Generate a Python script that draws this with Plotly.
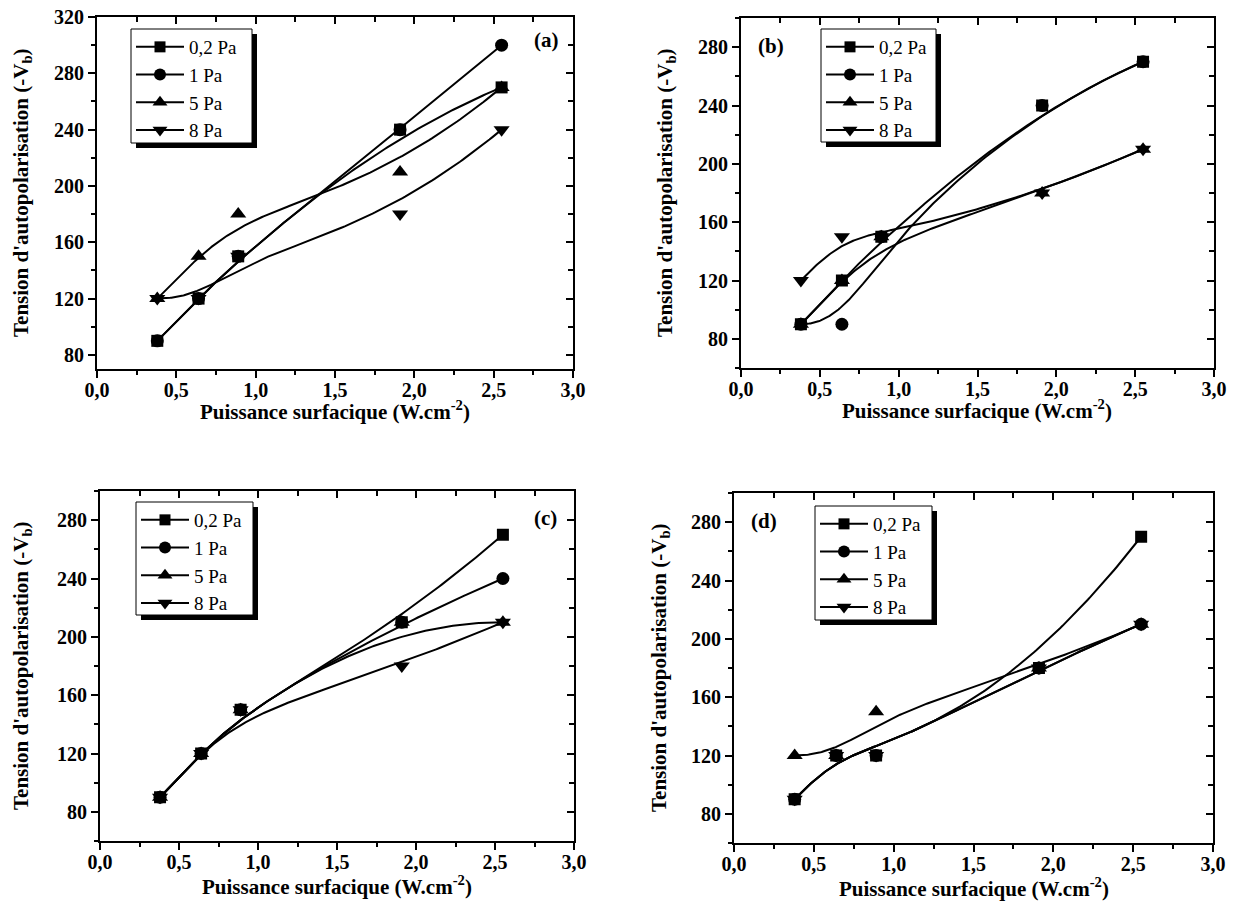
import numpy as np
import plotly.graph_objects as go

# ---------------- data ----------------
power = [0.38, 0.64, 0.89, 1.91, 2.55]          # W.cm-2
pressures = ["0,2 Pa", "1 Pa", "5 Pa", "8 Pa"]

a_02 = [90, 120, 150, 240, 270]
a_1 = [90, 120, 150, 240, 300]
a_5 = [120, 150, 180, 210, 270]
a_8 = [120, 120, 150, 180, 240]

b_02 = [90, 120, 150, 240, 270]
b_1 = [90, 90, 150, 240, 270]
b_5 = [90, 120, 150, 180, 210]
b_8 = [120, 150, 150, 180, 210]

c_02 = [90, 120, 150, 210, 270]
c_1 = [90, 120, 150, 210, 240]
c_5 = [90, 120, 150, 210, 210]
c_8 = [90, 120, 150, 180, 210]

d_02 = [90, 120, 120, 180, 270]
d_1 = [90, 120, 120, 180, 210]
d_5 = [120, 120, 150, 180, 210]
d_8 = [90, 120, 120, 180, 210]

panel_labels = ["(a)", "(b)", "(c)", "(d)"]
x_title = "Puissance surfacique (W.cm<sup>-2</sup>)"
y_title = "Tension d'autopolarisation (-V<sub>b</sub>)"

# ---------------- style ----------------
VW, VH = 1247, 907          # browser window
OFF = 8                     # default page body margin
W, H = VW - OFF, VH - OFF   # figure size so it fits the window exactly
FONT = "Liberation Serif, Times New Roman, serif"
symbols = ["square", "circle", "triangle-up", "triangle-down"]
msizes = [12, 13, 14, 14]


def px(x):
    return (x - OFF) / W


def py(y):
    return 1 - (y - OFF) / H


# panel boxes in window pixels (left, right, top, bottom)
boxes = [(97, 573, 17, 369), (741, 1214, 18, 368),
         (100, 574, 491, 841), (734, 1213, 493, 843)]
yranges = [(70, 320), (60, 300), (60, 300), (60, 300)]
xtitle_gap = [41, 41, 44, 44]
# legend boxes (left, top, width, height)
legend_box = [(131, 29, 121, 114), (821, 29, 115, 113),
              (136, 502, 117, 113), (815, 506, 117, 114)]
label_px = [(532, 40), (756, 46), (532, 518), (749, 521)]
ytitle_px = [22, 666, 22, 660]


def bspline(xs, ys, n=200, k=3):
    """Clamped B-spline using the data points as control points (Origin 'B-Spline')."""
    xs = np.asarray(xs, float)
    ys = np.asarray(ys, float)
    m = len(xs)
    inner = np.linspace(0, 1, m - k + 1)[1:-1]
    t = np.concatenate([np.zeros(k + 1), inner, np.ones(k + 1)])
    u = np.linspace(0, 1, n)
    u[-1] = 1 - 1e-12

    def basis(i, p, uu):
        if p == 0:
            return np.where((t[i] <= uu) & (uu < t[i + 1]), 1.0, 0.0)
        out = np.zeros_like(uu)
        d1 = t[i + p] - t[i]
        d2 = t[i + p + 1] - t[i + 1]
        if d1 > 0:
            out += (uu - t[i]) / d1 * basis(i, p - 1, uu)
        if d2 > 0:
            out += (t[i + p + 1] - uu) / d2 * basis(i + 1, p - 1, uu)
        return out

    Bm = np.array([basis(i, k, u) for i in range(m)])
    return Bm.T @ xs, Bm.T @ ys


panels = [[a_02, a_1, a_5, a_8], [b_02, b_1, b_5, b_8],
          [c_02, c_1, c_5, c_8], [d_02, d_1, d_5, d_8]]

fig = go.Figure()
layout = dict(width=W, height=H, margin=dict(l=0, r=0, t=0, b=0, autoexpand=False),
              paper_bgcolor="white", plot_bgcolor="white",
              separators=", ", showlegend=True,
              font=dict(family=FONT, color="black"))
shapes, annotations = [], []

for p, series in enumerate(panels):
    i = p + 1
    xa = "x" if i == 1 else f"x{i}"
    ya = "y" if i == 1 else f"y{i}"
    leg = "legend" if i == 1 else f"legend{i}"
    L, R, T, B = boxes[p]
    xdom = [px(L), px(R)]
    ydom = [py(B), py(T)]

    for s, vals in enumerate(series):
        sx, sy = bspline(power, vals)
        fig.add_trace(go.Scatter(x=sx, y=sy, mode="lines", xaxis=xa, yaxis=ya,
                                 line=dict(color="black", width=2),
                                 showlegend=False, hoverinfo="skip"))
        fig.add_trace(go.Scatter(x=power, y=vals, mode="markers", xaxis=xa, yaxis=ya,
                                 marker=dict(symbol=symbols[s], size=msizes[s], color="black"),
                                 showlegend=False))
        fig.add_trace(go.Scatter(x=[None], y=[None], mode="lines+markers", xaxis=xa, yaxis=ya,
                                 name=pressures[s], legend=leg,
                                 line=dict(color="black", width=2),
                                 marker=dict(symbol=symbols[s], size=msizes[s] - 1, color="black")))

    # invisible helper trace for top / right mirror axes
    xa2, ya2 = f"x{i+4}", f"y{i+4}"
    fig.add_trace(go.Scatter(x=[None], y=[None], xaxis=xa2, yaxis=ya2,
                             showlegend=False, hoverinfo="skip"))

    tickfont = dict(family=FONT, size=20, color="black", weight="bold")
    common = dict(showgrid=False, zeroline=False, linecolor="black", linewidth=2,
                  tickcolor="black", tickwidth=2, ticklen=7, automargin=False,
                  ticklabeloverflow="allow")
    layout["xaxis" if i == 1 else f"xaxis{i}"] = dict(
        domain=xdom, anchor=ya, range=[0, 3], dtick=0.5, tick0=0, tickformat=".1f",
        ticks="outside", tickfont=tickfont, ticklabelstandoff=-5,
        minor=dict(dtick=0.25, ticks="outside", ticklen=4, tickwidth=2, tickcolor="black"),
        **common)
    layout["yaxis" if i == 1 else f"yaxis{i}"] = dict(
        domain=ydom, anchor=xa, range=list(yranges[p]), dtick=40, tick0=0,
        ticks="outside", tickfont=tickfont,
        minor=dict(dtick=20, ticks="outside", ticklen=4, tickwidth=2, tickcolor="black"),
        **common)
    layout[f"xaxis{i+4}"] = dict(
        domain=xdom, anchor=ya2, overlaying=xa, side="top", range=[0, 3], dtick=0.5, tick0=0,
        ticks="inside", showticklabels=False,
        minor=dict(dtick=0.25, ticks="inside", ticklen=5, tickwidth=2, tickcolor="black"),
        **common)
    layout[f"yaxis{i+4}"] = dict(
        domain=ydom, anchor=xa2, overlaying=ya, side="right", range=list(yranges[p]),
        dtick=40, tick0=0, ticks="inside", showticklabels=False,
        minor=dict(dtick=20, ticks="inside", ticklen=5, tickwidth=2, tickcolor="black"),
        **common)

    # x title
    annotations.append(dict(text=x_title, xref="paper", yref="paper",
                            x=px((L + R) / 2), y=py(B + xtitle_gap[p]),
                            showarrow=False, xanchor="center", yanchor="middle",
                            font=dict(family=FONT, size=21, weight="bold", color="black")))
    # y title (rotated)
    annotations.append(dict(text=y_title, xref="paper", yref="paper",
                            x=px(ytitle_px[p]), y=py((T + B) / 2), textangle=-90,
                            showarrow=False, xanchor="center", yanchor="middle",
                            font=dict(family=FONT, size=21, weight="bold", color="black")))
    # panel label
    lx, ly = label_px[p]
    annotations.append(dict(text=panel_labels[p], xref="paper", yref="paper",
                            x=px(lx), y=py(ly), showarrow=False,
                            xanchor="left", yanchor="middle",
                            font=dict(family=FONT, size=21, weight="bold", color="black")))
    # legend box + shadow (shapes), entries from plotly legend
    gx, gy, lw, lh = legend_box[p]
    shapes.append(dict(type="rect", xref="paper", yref="paper",
                       x0=px(gx + 5), x1=px(gx + lw + 5),
                       y0=py(gy + lh + 5), y1=py(gy + 5),
                       fillcolor="black", line=dict(width=0), layer="above"))
    shapes.append(dict(type="rect", xref="paper", yref="paper",
                       x0=px(gx), x1=px(gx + lw),
                       y0=py(gy + lh), y1=py(gy),
                       fillcolor="white", line=dict(color="black", width=1), layer="above"))
    layout[leg] = dict(x=px(gx), y=py(gy - 1), xanchor="left", yanchor="top",
                       bgcolor="rgba(0,0,0,0)", borderwidth=0,
                       font=dict(family=FONT, size=19, color="black"),
                       itemwidth=48, tracegroupgap=0, itemsizing="trace")

layout["shapes"] = shapes
layout["annotations"] = annotations
fig.update_layout(**layout)
fig.write_html("out.html")
